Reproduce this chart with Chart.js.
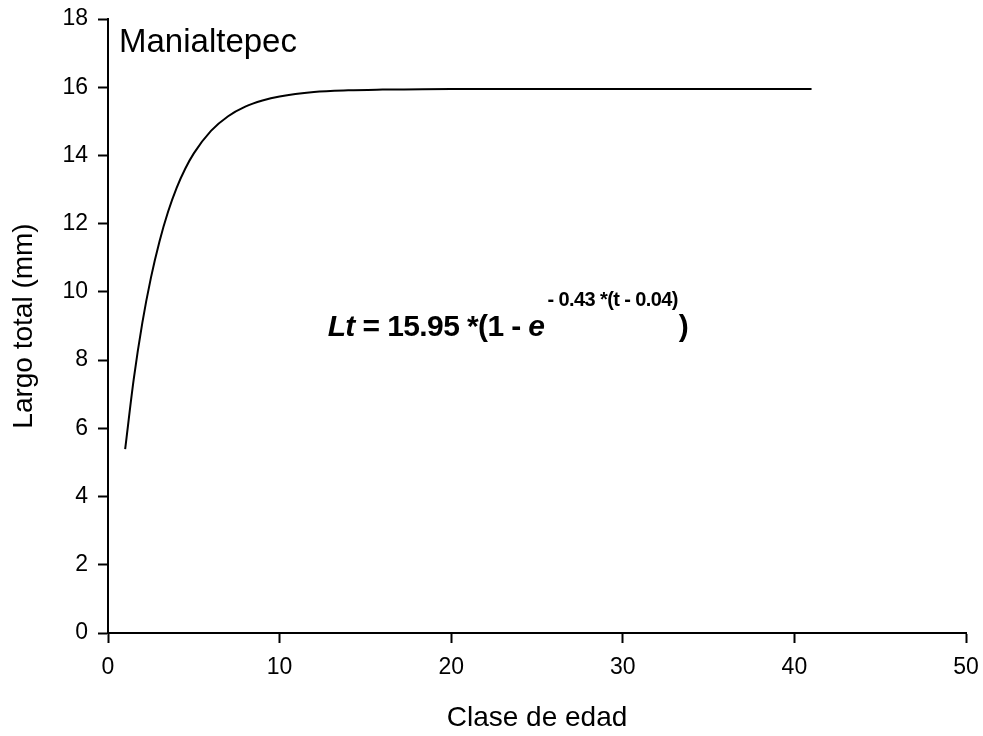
<!DOCTYPE html>
<html>
<head>
<meta charset="utf-8">
<script src="https://cdn.jsdelivr.net/npm/chart.js@4/dist/chart.umd.min.js"></script>
<style>
  body { margin: 0; background: #ffffff; }
  #wrap { width: 983px; height: 736px; }
</style>
</head>
<body>
<div id="wrap">
  <canvas id="growthChart" width="983" height="736"></canvas>
</div>
<script>
// Edad (clase) y largo total
const ages    = [1, 1.5, 2, 2.5, 3, 3.5, 4, 4.5, 5, 6, 7, 8, 9, 10, 12, 14, 16, 20, 25, 30, 35, 41];
const lengths = [5.39, 7.44, 9.09, 10.41, 11.48, 12.35, 13.05, 13.61, 14.06, 14.72, 15.15, 15.43, 15.61, 15.73, 15.86, 15.91, 15.93, 15.95, 15.95, 15.95, 15.95, 15.95];

const xTicks = [0, 10, 20, 30, 40, 50];
const yTicks = [0, 2, 4, 6, 8, 10, 12, 14, 16, 18];

const siteLabel = 'Manialtepec';
const xTitle = 'Clase de edad';
const yTitle = 'Largo total (mm)';

const FONT = 'Arial, "Liberation Sans", sans-serif';

// draws the site name and the fitted equation inside the plot
const textPlugin = {
  id: 'textPlugin',
  afterDraw(chart) {
    const ctx = chart.ctx;
    const area = chart.chartArea;
    const xs = chart.scales.x, ys = chart.scales.y;
    ctx.save();
    ctx.fillStyle = '#000';
    ctx.textBaseline = 'alphabetic';
    ctx.textAlign = 'left';

    ctx.font = '33px ' + FONT;
    ctx.fillText(siteLabel, area.left + 11, area.top + 33);

    // equation, anchored at a point in data coordinates
    let x = xs.getPixelForValue(12.8);
    const y = ys.getPixelForValue(8.7);
    const parts = [
      { t: 'Lt', f: 'italic bold 30px ', dy: 0 },
      { t: ' = 15.95 *(1 - ', f: 'bold 30px ', dy: 0 },
      { t: 'e', f: 'italic bold 30px ', dy: 0 },
      { t: '- 0.43 *(t - 0.04)', f: 'bold 20px ', dy: -30, pre: 3 },
      { t: ')', f: 'bold 30px ', dy: 0, pre: 1 }
    ];
    ctx.letterSpacing = '-0.6px';
    parts.forEach(p => {
      ctx.font = p.f + FONT;
      x += p.pre || 0;
      ctx.fillText(p.t, x, y + p.dy);
      x += ctx.measureText(p.t).width;
    });
    ctx.restore();
  }
};

const points = ages.map((a, i) => ({ x: a, y: lengths[i] }));

new Chart(document.getElementById('growthChart'), {
  type: 'line',
  data: {
    datasets: [{
      data: points,
      borderColor: '#000000',
      borderWidth: 2,
      pointRadius: 0,
      fill: false,
      cubicInterpolationMode: 'monotone'
    }]
  },
  options: {
    responsive: false,
    animation: false,
    layout: { padding: { top: 19, right: 17, left: 0, bottom: 0 } },
    plugins: {
      legend: { display: false },
      tooltip: { enabled: false }
    },
    scales: {
      x: {
        type: 'linear',
        min: 0,
        max: 50,
        afterBuildTicks: s => { s.ticks = xTicks.map(v => ({ value: v })); },
        afterFit: s => { s.height = 103; s.paddingLeft = 0; s.paddingRight = 0; },
        border: { color: '#000', width: 2 },
        grid: { drawOnChartArea: false, tickLength: 10, tickColor: '#000', tickWidth: 2 },
        ticks: { color: '#000', padding: 11, font: { family: FONT, size: 23 } },
        title: { display: true, text: xTitle, color: '#000', padding: { top: 0, bottom: 1 }, font: { family: FONT, size: 28 } }
      },
      y: {
        min: 0,
        max: 18,
        afterBuildTicks: s => { s.ticks = yTicks.map(v => ({ value: v })); },
        afterFit: s => { s.width = 108; s.paddingTop = 0; s.paddingBottom = 0; },
        border: { color: '#000', width: 2 },
        grid: { drawOnChartArea: false, tickLength: 10, tickColor: '#000', tickWidth: 2 },
        ticks: { color: '#000', padding: 10, font: { family: FONT, size: 23 } },
        title: { display: true, text: yTitle, color: '#000', padding: { top: 7, bottom: 0 }, font: { family: FONT, size: 28 } }
      }
    }
  },
  plugins: [textPlugin]
});
</script>
</body>
</html>
